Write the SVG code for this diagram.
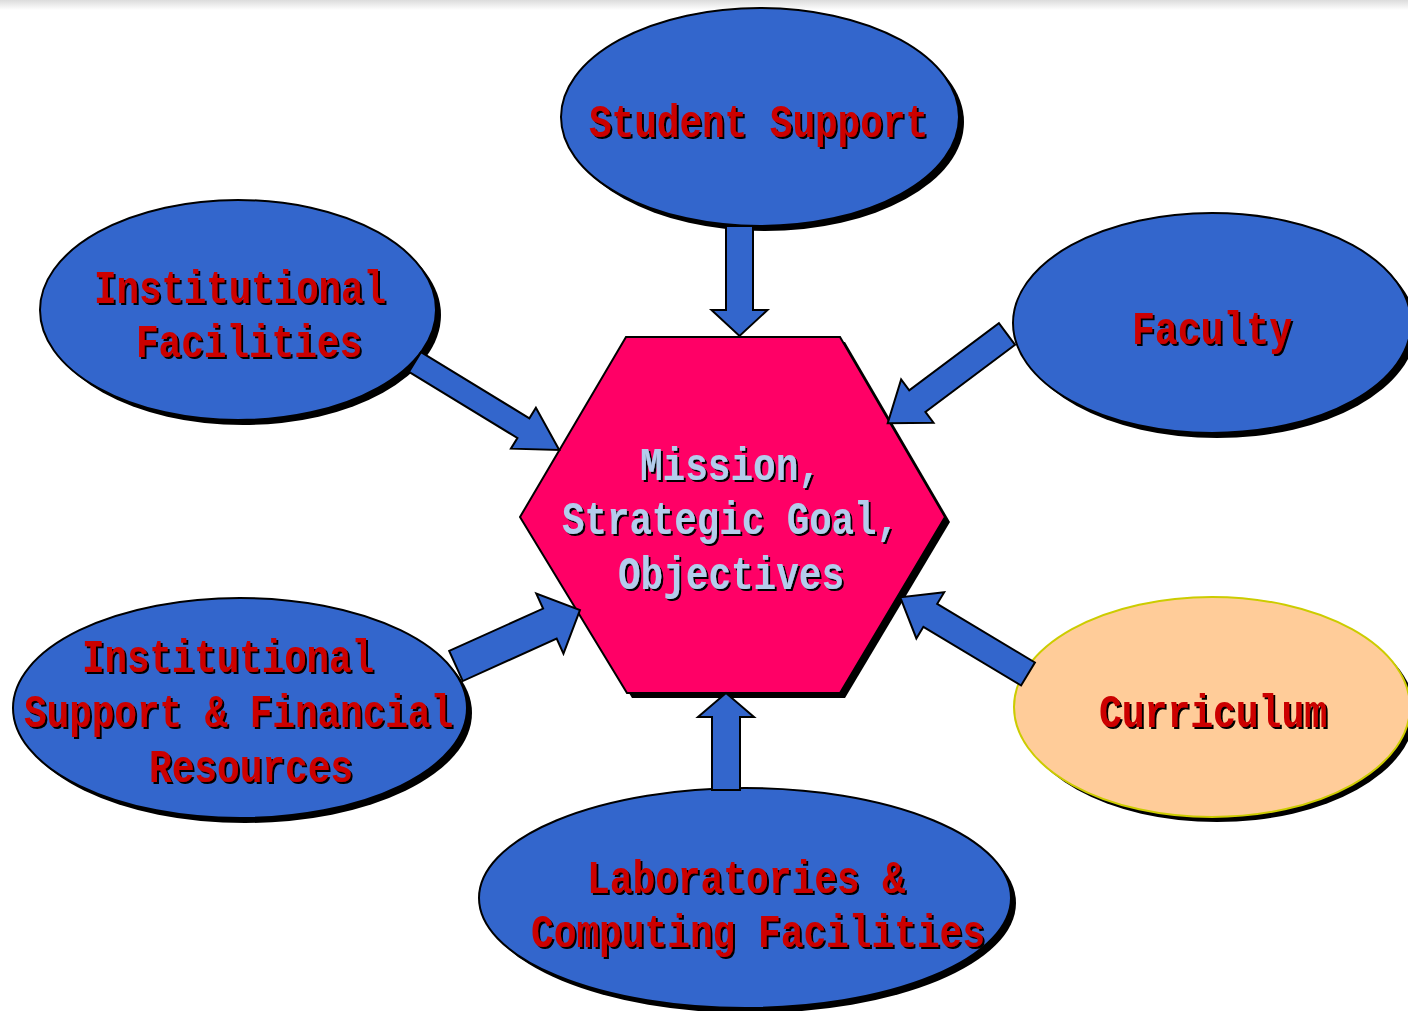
<svg xmlns="http://www.w3.org/2000/svg" width="1408" height="1011" viewBox="0 0 1408 1011">
<defs>
<linearGradient id="topband" x1="0" y1="0" x2="0" y2="1">
<stop offset="0" stop-color="#dcdcdc"/>
<stop offset="1" stop-color="#ffffff"/>
</linearGradient>
<filter id="tshadow" x="-5%" y="-20%" width="110%" height="140%">
<feDropShadow dx="2" dy="2" stdDeviation="0" flood-color="#000000" flood-opacity="1"/>
</filter>
</defs>
<style>
.shadow{fill:#000000;}
.node{fill:#3366CC;stroke:#000000;stroke-width:2;}
.cur{fill:#FFCC99;stroke:#CCCC00;stroke-width:2;}
.hex{fill:#FF0066;stroke:#000000;stroke-width:2;}
.arrow{fill:#3366CC;stroke:#000000;stroke-width:2;stroke-linejoin:miter;}
.lbl{font-family:"Liberation Mono","DejaVu Sans Mono",monospace;font-size:46px;font-weight:bold;fill:#CC0000;filter:url(#tshadow);}
.hlbl{font-family:"Liberation Mono","DejaVu Sans Mono",monospace;font-size:46px;font-weight:bold;fill:#B4CCEC;filter:url(#tshadow);}
</style>
<rect x="0" y="0" width="1408" height="1011" fill="#ffffff"/>
<rect x="0" y="0" width="1408" height="10" fill="url(#topband)"/>

<g id="hexagon">
<polygon class="shadow" points="631,342 845,342 950,522 845,698 632,698 525,522"/>
<polygon class="hex" points="626,337 840,337 945,517 840,693 627,693 520,517"/>
<text class="hlbl" x="640" y="480" textLength="181" lengthAdjust="spacingAndGlyphs">Mission,</text>
<text class="hlbl" x="562" y="534" textLength="337" lengthAdjust="spacingAndGlyphs">Strategic Goal,</text>
<text class="hlbl" x="618" y="589" textLength="226" lengthAdjust="spacingAndGlyphs">Objectives</text>
</g>

<g id="student-support">
<ellipse class="shadow" cx="765" cy="122" rx="199" ry="109"/>
<ellipse class="node" cx="760" cy="117" rx="199" ry="109"/>
<text class="lbl" x="589" y="137" textLength="339" lengthAdjust="spacingAndGlyphs">Student Support</text>
</g>

<g id="institutional-facilities">
<ellipse class="shadow" cx="243" cy="315" rx="198" ry="110"/>
<ellipse class="node" cx="238" cy="310" rx="198" ry="110"/>
<text class="lbl" x="94" y="303" textLength="292" lengthAdjust="spacingAndGlyphs">Institutional</text>
<text class="lbl" x="136" y="357" textLength="226" lengthAdjust="spacingAndGlyphs">Facilities</text>
</g>

<g id="faculty">
<ellipse class="shadow" cx="1217" cy="328" rx="199" ry="110"/>
<ellipse class="node" cx="1212" cy="323" rx="199" ry="110"/>
<text class="lbl" x="1132" y="344" textLength="160" lengthAdjust="spacingAndGlyphs">Faculty</text>
</g>

<g id="institutional-support">
<ellipse class="shadow" cx="245" cy="713" rx="227" ry="110"/>
<ellipse class="node" cx="240" cy="708" rx="227" ry="110"/>
<text class="lbl" x="82" y="672" textLength="292" lengthAdjust="spacingAndGlyphs">Institutional</text>
<text class="lbl" x="24" y="727" textLength="429" lengthAdjust="spacingAndGlyphs">Support &amp; Financial</text>
<text class="lbl" x="149" y="782" textLength="204" lengthAdjust="spacingAndGlyphs">Resources</text>
</g>

<g id="curriculum">
<ellipse class="shadow" cx="1217" cy="712" rx="198" ry="110"/>
<ellipse class="cur" cx="1212" cy="707" rx="198" ry="110"/>
<text class="lbl" x="1099" y="727" textLength="228" lengthAdjust="spacingAndGlyphs">Curriculum</text>
</g>

<g id="laboratories">
<ellipse class="shadow" cx="750" cy="903" rx="266" ry="110"/>
<ellipse class="node" cx="745" cy="898" rx="266" ry="110"/>
<text class="lbl" x="587" y="893" textLength="318" lengthAdjust="spacingAndGlyphs">Laboratories &amp;</text>
<text class="lbl" x="531" y="947" textLength="454" lengthAdjust="spacingAndGlyphs">Computing Facilities</text>
</g>

<g id="connectors">
<path class="arrow" transform="translate(739.5,226) rotate(90)" d="M0,-13.5 L84,-13.5 L84,-28 L110,0 L84,28 L84,13.5 L0,13.5 Z"/>
<path class="arrow" transform="translate(726,790) rotate(-90)" d="M0,-14 L73,-14 L73,-28 L97,0 L73,28 L73,14 L0,14 Z"/>
<path class="arrow" transform="translate(415,362) rotate(31.4)" d="M0,-11.5 L127,-11.5 L127,-24 L169,0 L127,24 L127,11.5 L0,11.5 Z"/>
<path class="arrow" transform="translate(1007,334) rotate(143.2)" d="M0,-13.5 L112,-13.5 L112,-27 L149,0 L112,27 L112,13.5 L0,13.5 Z"/>
<path class="arrow" transform="translate(456,666) rotate(-24.3)" d="M0,-16.5 L103,-16.5 L103,-33 L136,0 L103,33 L103,16.5 L0,16.5 Z"/>
<path class="arrow" transform="translate(1028,674) rotate(-149)" d="M0,-13.4 L114,-13.4 L114,-27 L149,0 L114,27 L114,13.4 L0,13.4 Z"/>
</g>
</svg>
